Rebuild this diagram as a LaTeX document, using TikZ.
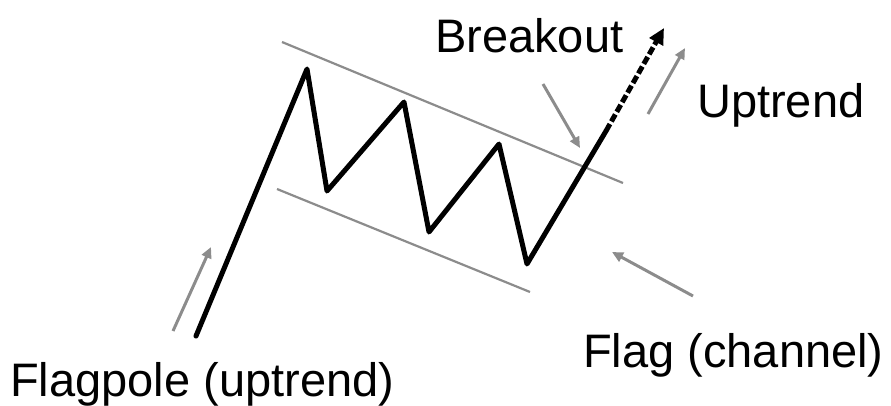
\documentclass[tikz,border=0pt]{standalone}
\usepackage{fontspec}
\setmainfont{Liberation Sans}
\usetikzlibrary{arrows.meta}
\begin{document}
\begin{tikzpicture}[x=1pt, y=-1pt, line join=round,
  price/.style={line width=5pt, line cap=round},
  chan/.style={line width=2.2pt, color=black!45},
  hint/.style={line width=3pt, color=black!45, -{Triangle[length=11pt,width=10pt]}},
  lbl/.style={font=\fontsize{47}{56}\selectfont, inner sep=0pt, anchor=base west}]
  \useasboundingbox (0,0) rectangle (891,405);
  % channel
  \draw[chan] (282,42) -- (623,183);
  \draw[chan] (277,189) -- (530,292);
  % price path
  \coordinate (pole) at (196,336);
  \coordinate (p1) at (307,69);
  \coordinate (t1) at (327,191);
  \coordinate (p2) at (404,102);
  \coordinate (t2) at (429,232);
  \coordinate (p3) at (499,144);
  \coordinate (t3) at (527,264);
  \coordinate (brk) at (606,131);
  \coordinate (tip) at (664,28);
  \draw[price] (pole) -- (p1) -- (t1) -- (p2) -- (t2) -- (p3) -- (t3) -- (brk);
  \draw[line width=5pt, dash pattern=on 8pt off 3pt, -{Triangle[length=16pt,width=15pt]}] (brk) -- (tip);
  % labels
  \node[lbl] (brkl) at (435,52) {Breakout};
  \node[lbl] (upl) at (697,117) {Uptrend};
  \node[lbl] (flagl) at (583,367) {Flag (channel)};
  \node[lbl] (polel) at (10,396) {Flagpole (uptrend)};
  % hints
  \coordinate (a1) at (543,84);
  \coordinate (a2) at (580,148);
  \draw[hint] (a1) -- (a2);
  \coordinate (b1) at (648,114);
  \coordinate (b2) at (685,48);
  \draw[hint] (b1) -- (b2);
  \coordinate (c1) at (693,296);
  \coordinate (c2) at (612,252);
  \draw[hint] (c1) -- (c2);
  \coordinate (d1) at (173,331);
  \coordinate (d2) at (211,247);
  \draw[hint] (d1) -- (d2);
\end{tikzpicture}
\end{document}
